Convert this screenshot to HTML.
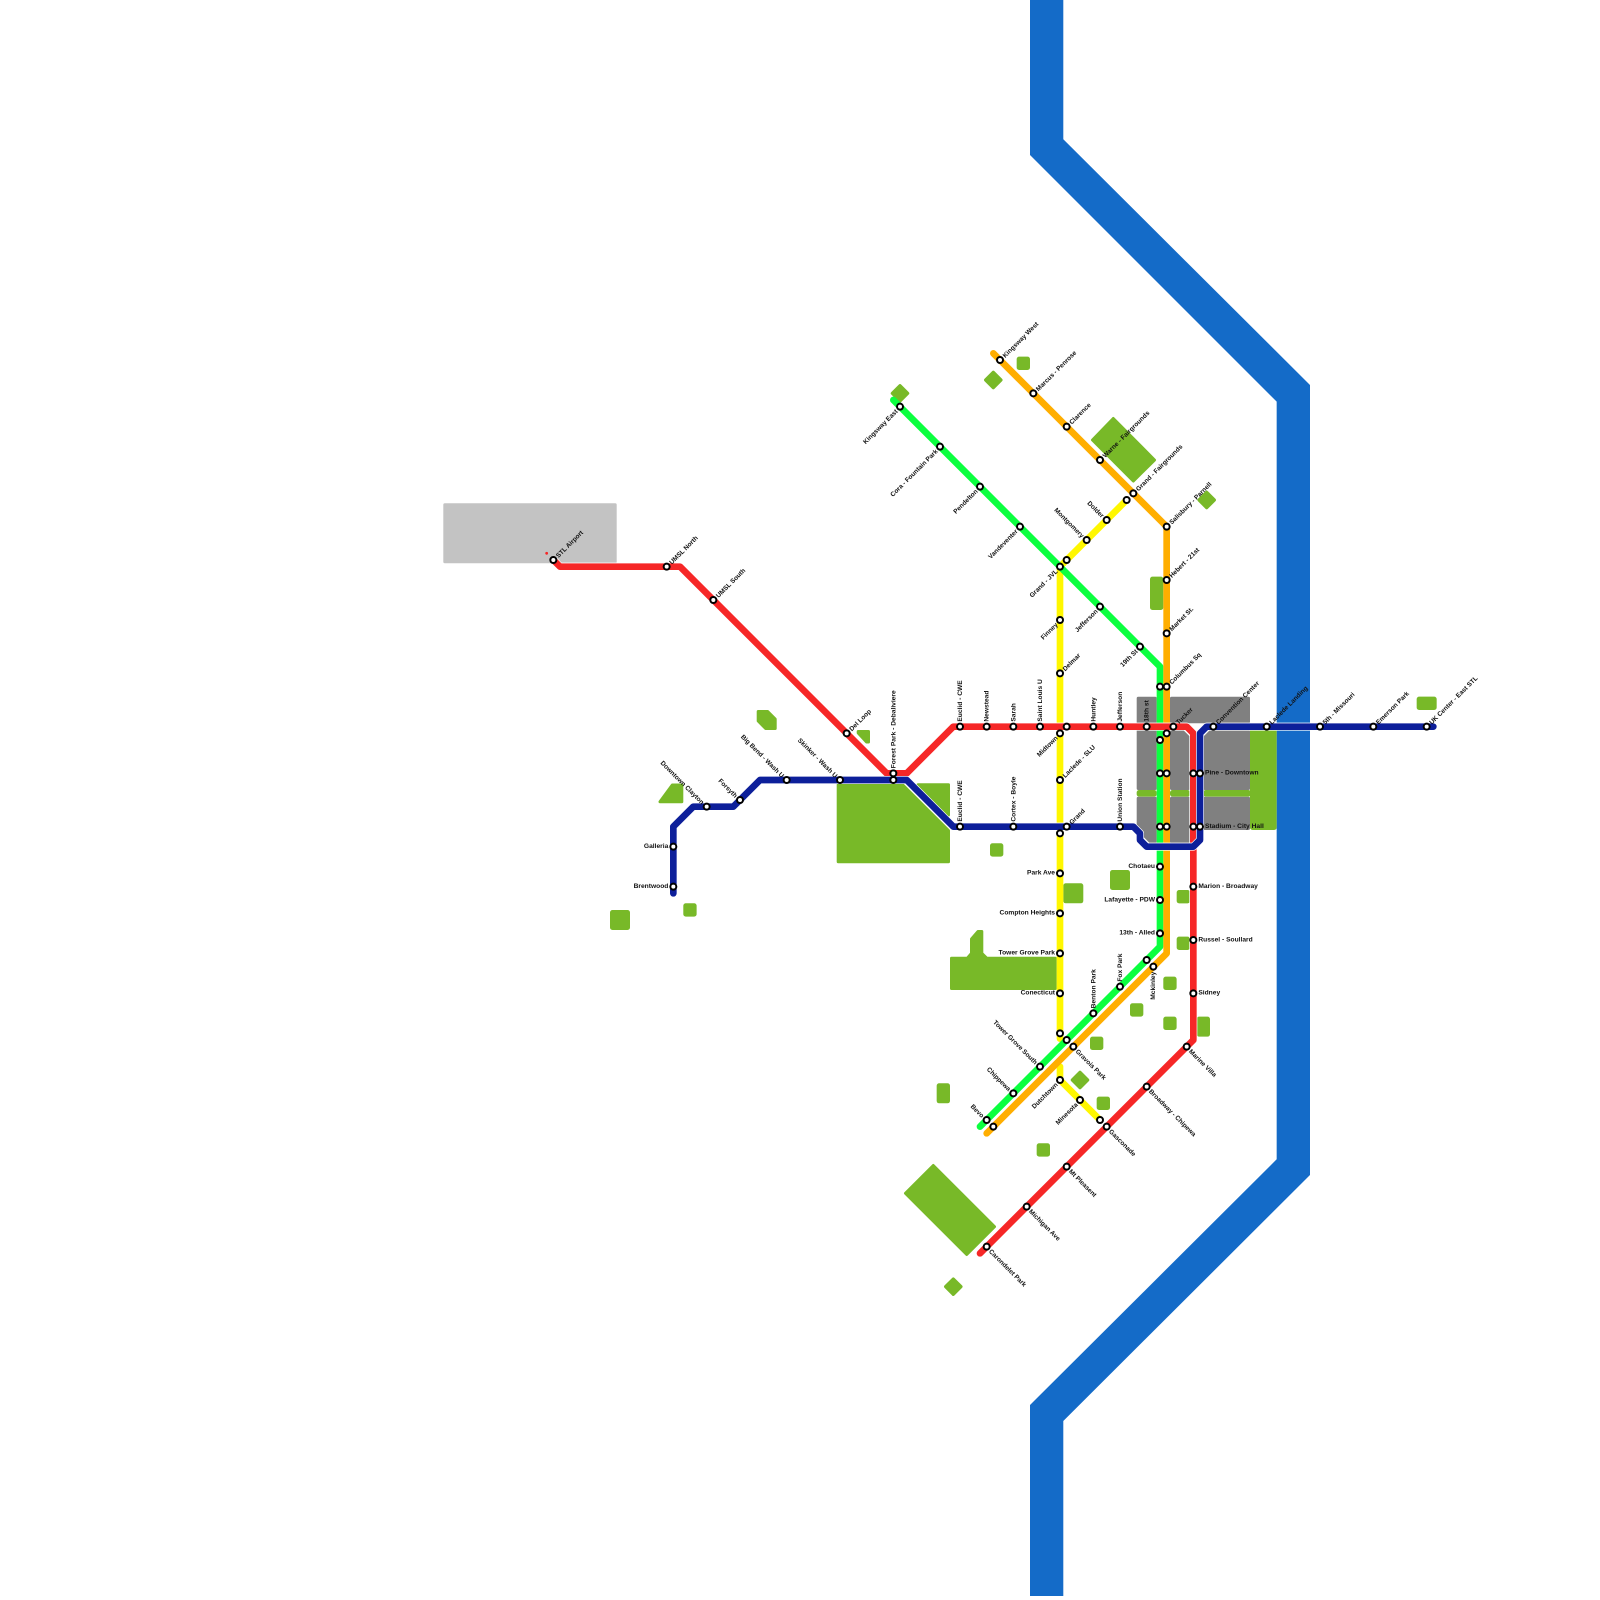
<!DOCTYPE html>
<html><head><meta charset="utf-8"><style>
html,body{margin:0;padding:0;background:#fff}
svg{display:block}
.p{fill:#78b928;stroke:#78b928;stroke-width:3;stroke-linejoin:round}
.d{fill:#78b928;stroke:#78b928;stroke-width:3.5;stroke-linejoin:round}
rect.r{fill:#78b928;rx:2.5px;ry:2.5px}
.g{fill:#808080;stroke:#808080;stroke-width:3;stroke-linejoin:round}
.l{fill:none;stroke-linecap:round;stroke-linejoin:round;stroke-width:1}
.c{fill:none;stroke:#fff;stroke-linecap:butt;stroke-linejoin:round;stroke-width:1.2}
circle{fill:#fff;stroke:#000;stroke-width:.3}
text{font-family:"Liberation Sans",sans-serif;font-weight:bold;font-size:1px;fill:#111}
g.k text{font-size:.975px}
.e{text-anchor:end}
</style></head><body>
<svg width="1600" height="1600" viewBox="0 0 1600 1600" xmlns="http://www.w3.org/2000/svg">
<rect width="1600" height="1600" fill="#fff"/>
<polygon fill="#146bc8" points="1030,0 1063.3,0 1063.3,139.3 1310,385 1310,1175 1063.3,1421 1063.3,1596 1030,1596 1030,1405 1276.67,1159.3 1276.67,401.67 1030,155"/>
<polygon fill="#c3c3c3" stroke="#c3c3c3" stroke-width="3" stroke-linejoin="round" points="444.8,504.8 615.2,504.8 615.2,561.8 444.8,561.8"/>
<circle cx="546.67" cy="553.3" r="1.4" style="fill:#f62727;stroke:none"/>
<!-- parks -->
<g>
<polygon class="p" points="1113.3,418.5 1092.5,440 1133.3,481 1154.5,460"/>
<polygon class="d" points="900,385.8 907.5,393.3 900,400.8 892.5,393.3"/>
<polygon class="d" points="993.3,372.5 1000.8,380 993.3,387.5 985.8,380"/>
<polygon class="d" points="1206.67,492.5 1214.2,500 1206.67,507.5 1199.2,500"/>
<rect class="r" x="1016.67" y="356.67" width="13.33" height="13.33"/>
<rect class="r" x="1150" y="576.67" width="13.33" height="33.33"/>
<rect class="r" x="1416.67" y="696.67" width="20" height="13.33"/>
<polygon class="p" points="758.2,711.5 767.7,711.5 775.2,719 775.2,728.5 765.6,728.5 758.2,721"/>
<polygon class="p" points="858.2,731.5 868.5,731.5 868.5,742 866.5,742 858.2,733"/>
<polygon class="p" points="660,801.8 672.3,785 681.8,785 681.8,801.8"/>
<polygon class="p" points="838.2,784.8 902.6,784.8 948.5,830.6 948.5,861.8 838.2,861.8"/>
<polygon class="p" points="918,784.8 948.5,784.8 948.5,815"/>
<rect class="r" x="990" y="843.3" width="13.33" height="13.33"/>
<rect class="r" x="683.3" y="903.3" width="13.33" height="13.33"/>
<rect class="r" x="610" y="910" width="20" height="20"/>
<polygon class="p" points="951.5,958.2 967.3,958.2 971.5,953.3 971.5,939 978,931.5 981.8,931.5 981.8,953.3 986.7,958.2 1055.2,958.2 1055.2,988.5 951.5,988.5"/>
<rect class="r" x="1063.3" y="883.3" width="20" height="20"/>
<rect class="r" x="1110" y="870" width="20" height="20"/>
<rect class="r" x="1176.67" y="890" width="13.33" height="13.33"/>
<rect class="r" x="1176.67" y="936.67" width="13.33" height="13.33"/>
<rect class="r" x="1163.3" y="976.67" width="13.33" height="13.33"/>
<rect class="r" x="1130" y="1003.3" width="13.33" height="13.33"/>
<rect class="r" x="1163.3" y="1016.67" width="13.33" height="13.33"/>
<rect class="r" x="1196.67" y="1016.67" width="13.33" height="20"/>
<rect class="r" x="1090" y="1036.67" width="13.33" height="13.33"/>
<polygon class="d" points="1080,1072.5 1087.5,1080 1080,1087.5 1072.5,1080"/>
<rect class="r" x="1096.67" y="1096.67" width="13.33" height="13.33"/>
<rect class="r" x="936.67" y="1083.3" width="13.33" height="20"/>
<rect class="r" x="1036.67" y="1143.3" width="13.33" height="13.33"/>
<polygon class="p" points="933.3,1165.5 905.5,1193.3 966.7,1254.5 994.5,1226.7"/>
<polygon class="d" points="953.3,1279.2 960.8,1286.67 953.3,1294.2 945.8,1286.67"/>
<rect class="r" x="1250" y="723" width="26.67" height="107"/>
</g>
<!-- gray blocks -->
<polygon class="g" points="1138.2,698.2 1155.2,698.2 1155.2,788.5 1138.2,788.5"/>
<polygon class="g" points="1138.2,798.2 1155.2,798.2 1155.2,841.8 1150.5,841.8 1138.2,829.5"/>
<polygon class="g" points="1171.5,698.2 1248.5,698.2 1248.5,721.8 1171.5,721.8"/>
<polygon class="g" points="1171.5,731.5 1182.7,731.5 1188.5,737.3 1188.5,788.5 1171.5,788.5"/>
<polygon class="g" points="1171.5,798.2 1188.5,798.2 1188.5,841.8 1171.5,841.8"/>
<polygon class="g" points="1210.5,731.5 1248.5,731.5 1248.5,788.5 1204.8,788.5 1204.8,737.3"/>
<polygon class="g" points="1204.8,798.2 1248.5,798.2 1248.5,828.5 1204.8,828.5"/>
<rect class="r" x="1136.67" y="790" width="20" height="6.67"/>
<rect class="r" x="1170" y="790" width="20" height="6.67"/>
<rect class="r" x="1203.3" y="790" width="47.5" height="6.67"/>
<g transform="scale(6.66667)">
<!-- lines -->
<path class="l" stroke="#fff700" d="M169 75L159 85L159 155.8"/>
<path class="l" stroke="#fff700" d="M159 160L159 162L165 168"/>
<path class="l" stroke="#0bff3f" d="M134 60L174 100L174 142L147 169"/>
<path class="l" stroke="#ffae00" d="M149 53L175 79L175 143L148 170"/>
<path class="c" d="M83 84L84 85L102 85L133 116L136 116L143 109L178 109L179 110L179 156L147 188"/>
<path class="l" stroke="#f62727" d="M83 84L84 85L102 85L133 116L136 116L143 109L178 109L179 110L179 156L147 188"/>
<path class="c" d="M101 134L101 124L104 121L110 121L114 117L136 117L143 124L170 124L171 125L171 126L172 127L179 127L180 126L180 110L181 109L215 109"/>
<path class="l" stroke="#0d1f9a" d="M101 134L101 124L104 121L110 121L114 117L136 117L143 124L170 124L171 125L171 126L172 127L179 127L180 126L180 110L181 109L215 109"/>
<!-- stations -->
<g>
<circle r=".45" cx="83" cy="84"/><circle r=".45" cx="100" cy="85"/><circle r=".45" cx="107" cy="90"/><circle r=".45" cx="127" cy="110"/>
<circle r=".45" cx="134" cy="116"/><circle r=".45" cx="134" cy="117"/><circle r=".45" cx="144" cy="109"/><circle r=".45" cx="148" cy="109"/>
<circle r=".45" cx="152" cy="109"/><circle r=".45" cx="156" cy="109"/><circle r=".45" cx="160" cy="109"/><circle r=".45" cx="164" cy="109"/>
<circle r=".45" cx="168" cy="109"/><circle r=".45" cx="172" cy="109"/><circle r=".45" cx="176" cy="109"/>
<circle r=".45" cx="179" cy="116"/><circle r=".45" cx="180" cy="116"/><circle r=".45" cx="179" cy="124"/><circle r=".45" cx="180" cy="124"/>
<circle r=".45" cx="179" cy="133"/><circle r=".45" cx="179" cy="141"/><circle r=".45" cx="179" cy="149"/>
<circle r=".45" cx="178" cy="157"/><circle r=".45" cx="172" cy="163"/><circle r=".45" cx="166" cy="169"/><circle r=".45" cx="160" cy="175"/><circle r=".45" cx="154" cy="181"/><circle r=".45" cx="148" cy="187"/>
<circle r=".45" cx="101" cy="133"/><circle r=".45" cx="101" cy="127"/><circle r=".45" cx="106" cy="121"/><circle r=".45" cx="111" cy="120"/><circle r=".45" cx="118" cy="117"/><circle r=".45" cx="126" cy="117"/>
<circle r=".45" cx="144" cy="124"/><circle r=".45" cx="152" cy="124"/><circle r=".45" cx="160" cy="124"/><circle r=".45" cx="168" cy="124"/>
<circle r=".45" cx="182" cy="109"/><circle r=".45" cx="190" cy="109"/><circle r=".45" cx="198" cy="109"/><circle r=".45" cx="206" cy="109"/><circle r=".45" cx="214" cy="109"/>
<circle r=".45" cx="135" cy="61"/><circle r=".45" cx="141" cy="67"/><circle r=".45" cx="147" cy="73"/><circle r=".45" cx="153" cy="79"/><circle r=".45" cx="159" cy="85"/><circle r=".45" cx="165" cy="91"/><circle r=".45" cx="171" cy="97"/>
<circle r=".45" cx="174" cy="103"/><circle r=".45" cx="174" cy="111"/><circle r=".45" cx="174" cy="116"/><circle r=".45" cx="174" cy="124"/><circle r=".45" cx="174" cy="130"/><circle r=".45" cx="174" cy="135"/><circle r=".45" cx="174" cy="140"/>
<circle r=".45" cx="172" cy="144"/><circle r=".45" cx="168" cy="148"/><circle r=".45" cx="164" cy="152"/><circle r=".45" cx="160" cy="156"/><circle r=".45" cx="156" cy="160"/><circle r=".45" cx="152" cy="164"/><circle r=".45" cx="148" cy="168"/>
<circle r=".45" cx="150" cy="54"/><circle r=".45" cx="155" cy="59"/><circle r=".45" cx="160" cy="64"/><circle r=".45" cx="165" cy="69"/><circle r=".45" cx="170" cy="74"/><circle r=".45" cx="175" cy="79"/><circle r=".45" cx="175" cy="87"/><circle r=".45" cx="175" cy="95"/><circle r=".45" cx="175" cy="103"/><circle r=".45" cx="175" cy="110"/><circle r=".45" cx="175" cy="116"/><circle r=".45" cx="175" cy="124"/>
<circle r=".45" cx="173" cy="145"/><circle r=".45" cx="161" cy="157"/><circle r=".45" cx="149" cy="169"/>
<circle r=".45" cx="169" cy="75"/><circle r=".45" cx="166" cy="78"/><circle r=".45" cx="163" cy="81"/><circle r=".45" cx="160" cy="84"/>
<circle r=".45" cx="159" cy="93"/><circle r=".45" cx="159" cy="101"/><circle r=".45" cx="159" cy="110"/><circle r=".45" cx="159" cy="117"/><circle r=".45" cx="159" cy="125"/><circle r=".45" cx="159" cy="131"/><circle r=".45" cx="159" cy="137"/><circle r=".45" cx="159" cy="143"/><circle r=".45" cx="159" cy="149"/><circle r=".45" cx="159" cy="155"/><circle r=".45" cx="159" cy="162"/><circle r=".45" cx="162" cy="165"/><circle r=".45" cx="165" cy="168"/>
</g>
<!-- NE labels -->
<g class="k">
<text transform="translate(83.78,83.72) rotate(-45)">STL Airport</text>
<text transform="translate(100.78,84.72) rotate(-45)">UMSL North</text>
<text transform="translate(107.78,89.72) rotate(-45)">UMSL South</text>
<text transform="translate(127.78,109.72) rotate(-45)">Del Loop</text>
<text transform="translate(150.78,53.72) rotate(-45)">Kingsway West</text>
<text transform="translate(155.78,58.72) rotate(-45)">Marcus - Penrose</text>
<text transform="translate(160.78,63.72) rotate(-45)">Clarence</text>
<text transform="translate(165.78,68.72) rotate(-45)">Warne - Fairgrounds</text>
<text transform="translate(170.78,73.72) rotate(-45)">Grand - Fairgrounds</text>
<text transform="translate(175.78,78.72) rotate(-45)">Salisbury - Parnell</text>
<text transform="translate(175.78,86.72) rotate(-45)">Hebert - 21st</text>
<text transform="translate(175.78,94.72) rotate(-45)">Market St.</text>
<text transform="translate(175.78,102.72) rotate(-45)">Columbus Sq</text>
<text transform="translate(176.78,108.72) rotate(-45)">Tucker</text>
<text transform="translate(182.78,108.72) rotate(-45)">Convention Center</text>
<text transform="translate(190.78,108.72) rotate(-45)">Laclede Landing</text>
<text transform="translate(198.78,108.72) rotate(-45)">5th - Missouri</text>
<text transform="translate(206.78,108.72) rotate(-45)">Emerson Park</text>
<text transform="translate(214.78,108.72) rotate(-45)">UK Center - East STL</text>
<text transform="translate(159.78,100.72) rotate(-45)">Delmar</text>
<text transform="translate(159.78,116.72) rotate(-45)">Laclede - SLU</text>
<text transform="translate(160.78,123.72) rotate(-45)">Grand</text>
</g>
<!-- SE labels -->
<g class="k">
<text transform="translate(161.28,157.78) rotate(45)">Gravois Park</text>
<text transform="translate(178.28,157.78) rotate(45)">Marine Villa</text>
<text transform="translate(172.28,163.78) rotate(45)">Broadway - Chipewa</text>
<text transform="translate(166.28,169.78) rotate(45)">Gasconade</text>
<text transform="translate(160.28,175.78) rotate(45)">Mt Pleasent</text>
<text transform="translate(154.28,181.78) rotate(45)">Michigan Ave</text>
<text transform="translate(148.28,187.78) rotate(45)">Carondelet Park</text>
</g>
<!-- vertical labels -->
<text transform="translate(134.3,115.25) rotate(-90)">Forest Park - Debaliviere</text>
<text transform="translate(144.3,108.25) rotate(-90)">Euclid - CWE</text>
<text transform="translate(148.3,108.25) rotate(-90)">Newstead</text>
<text transform="translate(152.3,108.25) rotate(-90)">Sarah</text>
<text transform="translate(156.3,108.25) rotate(-90)">Saint Louis U</text>
<text transform="translate(164.3,108.25) rotate(-90)">Huntley</text>
<text transform="translate(168.3,108.25) rotate(-90)">Jefferson</text>
<text transform="translate(172.3,108.25) rotate(-90)">18th st</text>
<text transform="translate(144.3,123.25) rotate(-90)">Euclid - CWE</text>
<text transform="translate(152.3,123.25) rotate(-90)">Cortex - Boyle</text>
<text transform="translate(168.3,123.25) rotate(-90)">Union Station</text>
<text transform="translate(164.3,151.25) rotate(-90)">Benton Park</text>
<text transform="translate(168.3,147.25) rotate(-90)">Fox Park</text>
<text class="e" transform="translate(173.27,145.75) rotate(-90)">Mckinley</text>
<!-- left labels -->
<text class="e" x="100.25" y="127.2">Galleria</text>
<text class="e" x="100.25" y="133.2">Brentwood</text>
<text class="e" x="173.25" y="130.2">Chotaeu</text>
<text class="e" x="173.25" y="135.2">Lafayette - PDW</text>
<text class="e" x="173.25" y="140.2">13th - Alled</text>
<text class="e" x="158.25" y="131.2">Park Ave</text>
<text class="e" x="158.25" y="137.2">Compton Heights</text>
<text class="e" x="158.25" y="143.2">Tower Grove Park</text>
<text class="e" x="158.25" y="149.2">Conecticut</text>
<!-- right labels -->
<text x="180.75" y="116.2">Pine - Downtown</text>
<text x="180.75" y="124.2">Stadium - City Hall</text>
<text x="179.75" y="133.2">Marion - Broadway</text>
<text x="179.75" y="141.2">Russel - Soullard</text>
<text x="179.75" y="149.2">Sidney</text>
<!-- NW labels -->
<g class="k">
<text class="e" transform="translate(117.22,116.72) rotate(45)">Big Bend - Wash U</text>
<text class="e" transform="translate(125.22,116.72) rotate(45)">Skinker - Wash U</text>
<text class="e" transform="translate(105.22,120.72) rotate(45)">Downtown Clayton</text>
<text class="e" transform="translate(110.22,119.72) rotate(45)">Forsyth</text>
<text class="e" transform="translate(155.22,159.72) rotate(45)">Tower Grove South</text>
<text class="e" transform="translate(151.22,163.72) rotate(45)">Chippewa</text>
<text class="e" transform="translate(147.22,167.72) rotate(45)">Bevo</text>
<text class="e" transform="translate(165.22,77.72) rotate(45)">Dolder</text>
<text class="e" transform="translate(162.22,80.72) rotate(45)">Montgomery</text>
</g>
<!-- SW labels -->
<g class="k">
<text class="e" transform="translate(134.72,61.78) rotate(-45)">Kingsway East</text>
<text class="e" transform="translate(140.72,67.78) rotate(-45)">Cora - Fountain Park</text>
<text class="e" transform="translate(146.72,73.78) rotate(-45)">Pendelton</text>
<text class="e" transform="translate(152.72,79.78) rotate(-45)">Vandeventer</text>
<text class="e" transform="translate(158.72,85.78) rotate(-45)">Grand - JVL</text>
<text class="e" transform="translate(158.72,93.78) rotate(-45)">Finney</text>
<text class="e" transform="translate(164.72,91.78) rotate(-45)">Jefferson</text>
<text class="e" transform="translate(170.72,97.78) rotate(-45)">19th St</text>
<text class="e" transform="translate(158.72,110.78) rotate(-45)">Midtown</text>
<text class="e" transform="translate(158.72,162.78) rotate(-45)">Dutchtown</text>
<text class="e" transform="translate(161.72,165.78) rotate(-45)">Minesota</text>
</g>
</g>
</svg>
</body></html>
